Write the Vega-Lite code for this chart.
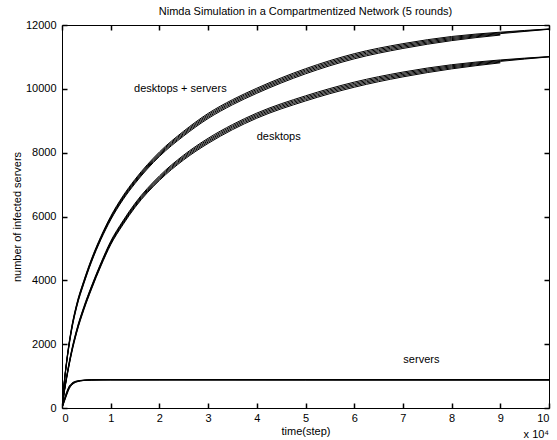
{
  "$schema": "https://vega.github.io/schema/vega-lite/v6.json",
  "width": 487,
  "height": 383,
  "autosize": "none",
  "padding": {"left": 62, "top": 25, "right": 8, "bottom": 32},
  "background": "white",
  "title": {"text": "Nimda Simulation in a Compartmentized Network (5 rounds)", "fontSize": 11, "font": "Liberation Sans", "fontWeight": "normal", "offset": 2, "anchor": "middle", "color": "black"},
  "config": {
    "view": {"stroke": "black", "strokeWidth": 1},
    "font": "Liberation Sans"
  },
  "datasets": {
    "runs": [
      {"s":"a1","t":0,"v":0},{"s":"a1","t":0.05,"v":850},{"s":"a1","t":0.1,"v":1500},{"s":"a1","t":0.2,"v":2500},{"s":"a1","t":0.3,"v":3200},{"s":"a1","t":0.45,"v":3950},{"s":"a1","t":0.6,"v":4600},{"s":"a1","t":0.8,"v":5330},{"s":"a1","t":1,"v":5950},{"s":"a1","t":1.25,"v":6580},{"s":"a1","t":1.5,"v":7100},{"s":"a1","t":2,"v":7950},{"s":"a1","t":2.5,"v":8600},{"s":"a1","t":3,"v":9150},{"s":"a1","t":3.5,"v":9580},{"s":"a1","t":4,"v":9940},{"s":"a1","t":5,"v":10550},{"s":"a1","t":6,"v":11020},{"s":"a1","t":7,"v":11340},{"s":"a1","t":8,"v":11575},{"s":"a1","t":9,"v":11730},{"s":"a1","t":10,"v":11866},
      {"s":"a2","t":0,"v":0},{"s":"a2","t":0.05,"v":880},{"s":"a2","t":0.1,"v":1540},{"s":"a2","t":0.2,"v":2550},{"s":"a2","t":0.3,"v":3250},{"s":"a2","t":0.45,"v":4000},{"s":"a2","t":0.6,"v":4650},{"s":"a2","t":0.8,"v":5380},{"s":"a2","t":1,"v":6005},{"s":"a2","t":1.25,"v":6640},{"s":"a2","t":1.5,"v":7165},{"s":"a2","t":2,"v":8020},{"s":"a2","t":2.5,"v":8675},{"s":"a2","t":3,"v":9230},{"s":"a2","t":3.5,"v":9660},{"s":"a2","t":4,"v":10020},{"s":"a2","t":5,"v":10630},{"s":"a2","t":6,"v":11100},{"s":"a2","t":7,"v":11415},{"s":"a2","t":8,"v":11640},{"s":"a2","t":9,"v":11775},{"s":"a2","t":10,"v":11876},
      {"s":"a3","t":0,"v":0},{"s":"a3","t":0.05,"v":820},{"s":"a3","t":0.1,"v":1460},{"s":"a3","t":0.2,"v":2450},{"s":"a3","t":0.3,"v":3150},{"s":"a3","t":0.45,"v":3900},{"s":"a3","t":0.6,"v":4550},{"s":"a3","t":0.8,"v":5280},{"s":"a3","t":1,"v":5895},{"s":"a3","t":1.25,"v":6520},{"s":"a3","t":1.5,"v":7035},{"s":"a3","t":2,"v":7880},{"s":"a3","t":2.5,"v":8525},{"s":"a3","t":3,"v":9070},{"s":"a3","t":3.5,"v":9500},{"s":"a3","t":4,"v":9860},{"s":"a3","t":5,"v":10470},{"s":"a3","t":6,"v":10940},{"s":"a3","t":7,"v":11265},{"s":"a3","t":8,"v":11510},{"s":"a3","t":9,"v":11685},
      {"s":"a4","t":0,"v":0},{"s":"a4","t":0.05,"v":865},{"s":"a4","t":0.1,"v":1520},{"s":"a4","t":0.2,"v":2525},{"s":"a4","t":0.3,"v":3225},{"s":"a4","t":0.45,"v":3975},{"s":"a4","t":0.6,"v":4625},{"s":"a4","t":0.8,"v":5355},{"s":"a4","t":1,"v":5978},{"s":"a4","t":1.25,"v":6610},{"s":"a4","t":1.5,"v":7133},{"s":"a4","t":2,"v":7985},{"s":"a4","t":2.5,"v":8638},{"s":"a4","t":3,"v":9190},{"s":"a4","t":3.5,"v":9620},{"s":"a4","t":4,"v":9980},{"s":"a4","t":5,"v":10590},{"s":"a4","t":6,"v":11060},{"s":"a4","t":7,"v":11378},{"s":"a4","t":8,"v":11608},{"s":"a4","t":9,"v":11753},{"s":"a4","t":10,"v":11871},
      {"s":"a5","t":0,"v":0},{"s":"a5","t":0.05,"v":835},{"s":"a5","t":0.1,"v":1480},{"s":"a5","t":0.2,"v":2475},{"s":"a5","t":0.3,"v":3175},{"s":"a5","t":0.45,"v":3925},{"s":"a5","t":0.6,"v":4575},{"s":"a5","t":0.8,"v":5305},{"s":"a5","t":1,"v":5922},{"s":"a5","t":1.25,"v":6550},{"s":"a5","t":1.5,"v":7067},{"s":"a5","t":2,"v":7915},{"s":"a5","t":2.5,"v":8562},{"s":"a5","t":3,"v":9110},{"s":"a5","t":3.5,"v":9540},{"s":"a5","t":4,"v":9900},{"s":"a5","t":5,"v":10510},{"s":"a5","t":6,"v":10980},{"s":"a5","t":7,"v":11302},{"s":"a5","t":8,"v":11542},{"s":"a5","t":9,"v":11707},
      {"s":"d1","t":0,"v":0},{"s":"d1","t":0.05,"v":550},{"s":"d1","t":0.1,"v":1000},{"s":"d1","t":0.2,"v":1780},{"s":"d1","t":0.3,"v":2400},{"s":"d1","t":0.45,"v":3130},{"s":"d1","t":0.6,"v":3750},{"s":"d1","t":0.8,"v":4500},{"s":"d1","t":1,"v":5170},{"s":"d1","t":1.25,"v":5800},{"s":"d1","t":1.5,"v":6350},{"s":"d1","t":2,"v":7200},{"s":"d1","t":2.5,"v":7850},{"s":"d1","t":3,"v":8370},{"s":"d1","t":3.5,"v":8800},{"s":"d1","t":4,"v":9160},{"s":"d1","t":5,"v":9700},{"s":"d1","t":6,"v":10130},{"s":"d1","t":7,"v":10450},{"s":"d1","t":8,"v":10690},{"s":"d1","t":9,"v":10860},{"s":"d1","t":10,"v":11000},
      {"s":"d2","t":0,"v":0},{"s":"d2","t":0.05,"v":580},{"s":"d2","t":0.1,"v":1040},{"s":"d2","t":0.2,"v":1830},{"s":"d2","t":0.3,"v":2450},{"s":"d2","t":0.45,"v":3180},{"s":"d2","t":0.6,"v":3800},{"s":"d2","t":0.8,"v":4550},{"s":"d2","t":1,"v":5225},{"s":"d2","t":1.25,"v":5860},{"s":"d2","t":1.5,"v":6415},{"s":"d2","t":2,"v":7270},{"s":"d2","t":2.5,"v":7925},{"s":"d2","t":3,"v":8450},{"s":"d2","t":3.5,"v":8880},{"s":"d2","t":4,"v":9240},{"s":"d2","t":5,"v":9780},{"s":"d2","t":6,"v":10210},{"s":"d2","t":7,"v":10525},{"s":"d2","t":8,"v":10755},{"s":"d2","t":9,"v":10905},{"s":"d2","t":10,"v":11010},
      {"s":"d3","t":0,"v":0},{"s":"d3","t":0.05,"v":520},{"s":"d3","t":0.1,"v":960},{"s":"d3","t":0.2,"v":1730},{"s":"d3","t":0.3,"v":2350},{"s":"d3","t":0.45,"v":3080},{"s":"d3","t":0.6,"v":3700},{"s":"d3","t":0.8,"v":4450},{"s":"d3","t":1,"v":5115},{"s":"d3","t":1.25,"v":5740},{"s":"d3","t":1.5,"v":6285},{"s":"d3","t":2,"v":7130},{"s":"d3","t":2.5,"v":7775},{"s":"d3","t":3,"v":8290},{"s":"d3","t":3.5,"v":8720},{"s":"d3","t":4,"v":9080},{"s":"d3","t":5,"v":9620},{"s":"d3","t":6,"v":10050},{"s":"d3","t":7,"v":10375},{"s":"d3","t":8,"v":10625},{"s":"d3","t":9,"v":10815},
      {"s":"d4","t":0,"v":0},{"s":"d4","t":0.05,"v":565},{"s":"d4","t":0.1,"v":1020},{"s":"d4","t":0.2,"v":1805},{"s":"d4","t":0.3,"v":2425},{"s":"d4","t":0.45,"v":3155},{"s":"d4","t":0.6,"v":3775},{"s":"d4","t":0.8,"v":4525},{"s":"d4","t":1,"v":5198},{"s":"d4","t":1.25,"v":5830},{"s":"d4","t":1.5,"v":6383},{"s":"d4","t":2,"v":7235},{"s":"d4","t":2.5,"v":7888},{"s":"d4","t":3,"v":8410},{"s":"d4","t":3.5,"v":8840},{"s":"d4","t":4,"v":9200},{"s":"d4","t":5,"v":9740},{"s":"d4","t":6,"v":10170},{"s":"d4","t":7,"v":10488},{"s":"d4","t":8,"v":10723},{"s":"d4","t":9,"v":10883},{"s":"d4","t":10,"v":11005},
      {"s":"d5","t":0,"v":0},{"s":"d5","t":0.05,"v":535},{"s":"d5","t":0.1,"v":980},{"s":"d5","t":0.2,"v":1755},{"s":"d5","t":0.3,"v":2375},{"s":"d5","t":0.45,"v":3105},{"s":"d5","t":0.6,"v":3725},{"s":"d5","t":0.8,"v":4475},{"s":"d5","t":1,"v":5142},{"s":"d5","t":1.25,"v":5770},{"s":"d5","t":1.5,"v":6317},{"s":"d5","t":2,"v":7165},{"s":"d5","t":2.5,"v":7812},{"s":"d5","t":3,"v":8330},{"s":"d5","t":3.5,"v":8760},{"s":"d5","t":4,"v":9120},{"s":"d5","t":5,"v":9660},{"s":"d5","t":6,"v":10090},{"s":"d5","t":7,"v":10412},{"s":"d5","t":8,"v":10657},{"s":"d5","t":9,"v":10837},
      {"s":"s1","t":0,"v":0},{"s":"s1","t":0.05,"v":250},{"s":"s1","t":0.1,"v":470},{"s":"s1","t":0.15,"v":650},{"s":"s1","t":0.2,"v":745},{"s":"s1","t":0.3,"v":830},{"s":"s1","t":0.45,"v":868},{"s":"s1","t":0.6,"v":880},{"s":"s1","t":0.8,"v":884},{"s":"s1","t":1,"v":885},{"s":"s1","t":2,"v":885},{"s":"s1","t":5,"v":884},{"s":"s1","t":10,"v":883},
      {"s":"s2","t":0,"v":0},{"s":"s2","t":0.05,"v":290},{"s":"s2","t":0.1,"v":520},{"s":"s2","t":0.15,"v":690},{"s":"s2","t":0.2,"v":775},{"s":"s2","t":0.3,"v":845},{"s":"s2","t":0.45,"v":872},{"s":"s2","t":0.6,"v":882},{"s":"s2","t":0.8,"v":885},{"s":"s2","t":1,"v":886},{"s":"s2","t":2,"v":886},{"s":"s2","t":5,"v":885},{"s":"s2","t":10,"v":884},
      {"s":"s3","t":0,"v":0},{"s":"s3","t":0.05,"v":210},{"s":"s3","t":0.1,"v":420},{"s":"s3","t":0.15,"v":610},{"s":"s3","t":0.2,"v":715},{"s":"s3","t":0.3,"v":815},{"s":"s3","t":0.45,"v":862},{"s":"s3","t":0.6,"v":877},{"s":"s3","t":0.8,"v":882},{"s":"s3","t":1,"v":884},{"s":"s3","t":2,"v":884},{"s":"s3","t":5,"v":883},{"s":"s3","t":10,"v":882},
      {"s":"s4","t":0,"v":0},{"s":"s4","t":0.05,"v":270},{"s":"s4","t":0.1,"v":495},{"s":"s4","t":0.15,"v":670},{"s":"s4","t":0.2,"v":760},{"s":"s4","t":0.3,"v":838},{"s":"s4","t":0.45,"v":870},{"s":"s4","t":0.6,"v":881},{"s":"s4","t":0.8,"v":884},{"s":"s4","t":1,"v":885},{"s":"s4","t":2,"v":885},{"s":"s4","t":5,"v":884},{"s":"s4","t":10,"v":883},
      {"s":"s5","t":0,"v":0},{"s":"s5","t":0.05,"v":230},{"s":"s5","t":0.1,"v":445},{"s":"s5","t":0.15,"v":630},{"s":"s5","t":0.2,"v":730},{"s":"s5","t":0.3,"v":822},{"s":"s5","t":0.45,"v":865},{"s":"s5","t":0.6,"v":878},{"s":"s5","t":0.8,"v":883},{"s":"s5","t":1,"v":884},{"s":"s5","t":2,"v":884},{"s":"s5","t":5,"v":883},{"s":"s5","t":10,"v":882}
    ],
    "labels": [
      {"t": 2.43, "v": 9988, "label": "desktops + servers"},
      {"t": 4.45, "v": 8495, "label": "desktops"},
      {"t": 7.38, "v": 1503, "label": "servers"},
      {"t": 9.74, "v": -850, "label": "x 10⁴"}
    ]
  },
  "resolve": {"axis": {"x": "independent", "y": "independent"}},
  "layer": [
    {
      "data": {"name": "runs"},
      "mark": {"type": "line", "color": "black", "strokeWidth": 1, "interpolate": "monotone", "clip": true},
      "encoding": {
        "x": {"field": "t", "type": "quantitative", "scale": {"domain": [0, 10], "nice": false, "zero": false},
              "axis": {"orient": "bottom", "values": [0,1,2,3,4,5,6,7,8,9,10], "format": "d", "grid": false, "domain": false, "ticks": true, "tickColor": "black", "tickWidth": 1.5, "tickSize": 5, "offset": -5, "zindex": 1, "labelColor": "black", "labelFont": "Liberation Sans", "labelFontSize": 11, "labelPadding": 4, "title": "time(step)", "titleFont": "Liberation Sans", "titleFontSize": 11, "titleFontWeight": "normal", "titleColor": "black", "titlePadding": 2}},
        "y": {"field": "v", "type": "quantitative", "scale": {"domain": [0, 12000], "nice": false, "zero": false},
              "axis": {"orient": "left", "values": [0,2000,4000,6000,8000,10000,12000], "format": "d", "grid": false, "domain": false, "ticks": true, "tickColor": "black", "tickWidth": 1.5, "tickSize": 5, "offset": -5, "zindex": 1, "labelColor": "black", "labelFont": "Liberation Sans", "labelFontSize": 11, "labelPadding": 6, "title": "number of infected servers", "titleFont": "Liberation Sans", "titleFontSize": 11, "titleFontWeight": "normal", "titleColor": "black", "titlePadding": 3}},
        "detail": {"field": "s"}
      }
    },
    {
      "data": {"name": "labels"},
      "mark": {"type": "text", "color": "black", "fontSize": 11, "font": "Liberation Sans", "align": "center", "baseline": "middle"},
      "encoding": {
        "x": {"field": "t", "type": "quantitative", "scale": {"domain": [0, 10], "nice": false, "zero": false},
              "axis": {"orient": "top", "values": [0,1,2,3,4,5,6,7,8,9,10], "grid": false, "domain": false, "ticks": true, "tickColor": "black", "tickWidth": 1.5, "tickSize": 5, "offset": -5, "zindex": 1, "labels": false, "title": null}},
        "y": {"field": "v", "type": "quantitative", "scale": {"domain": [0, 12000], "nice": false, "zero": false},
              "axis": {"orient": "right", "values": [0,2000,4000,6000,8000,10000,12000], "grid": false, "domain": false, "ticks": true, "tickColor": "black", "tickWidth": 1.5, "tickSize": 5, "offset": -5, "zindex": 1, "labels": false, "title": null}},
        "text": {"field": "label"}
      }
    }
  ]
}
